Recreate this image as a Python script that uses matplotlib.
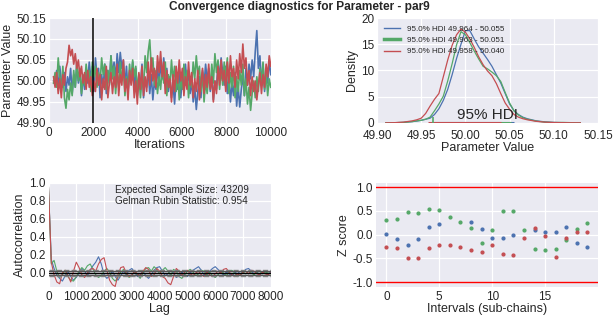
import numpy as np
import matplotlib
matplotlib.use("Agg")
import matplotlib.pyplot as plt
from matplotlib.lines import Line2D

# ---------------- data ----------------
TITLE = "Convergence diagnostics for Parameter - par9"
CHAIN_COLORS = ["#4C72B0", "#55A868", "#C44E52"]

# trace samples (every ITER_STEP iterations from ITER_START)
ITER_START = 200
ITER_STEP = 70
BURN_IN = 2000
trace_blue = [
    50.000, 49.990, 50.025, 49.980, 50.035, 50.000, 49.985, 50.020, 49.975, 50.010,
    49.990, 50.030, 49.970, 50.015, 49.985, 50.040, 49.995, 50.025, 49.965, 50.010,
    49.980, 50.020, 49.995, 50.045, 50.005, 50.035, 49.975, 50.055, 50.010, 50.030,
    49.960, 50.015, 49.985, 50.040, 49.970, 50.025, 49.995, 50.060, 50.015, 50.045,
    50.005, 50.065, 50.020, 50.068, 50.030, 50.050, 49.990, 50.035, 49.975, 50.020,
    50.000, 50.045, 49.980, 50.030, 49.965, 50.010, 49.990, 50.040, 49.960, 50.005,
    49.985, 50.025, 49.970, 50.015, 49.955, 50.000, 49.980, 50.035, 49.990, 50.045,
    50.005, 50.055, 50.015, 50.030, 49.975, 50.010, 49.960, 49.995, 49.945, 50.005,
    49.980, 50.025, 49.960, 50.010, 49.985, 50.040, 49.995, 50.020, 49.970, 50.000,
    49.950, 49.985, 49.932, 49.975, 50.010, 49.960, 50.025, 49.990, 50.040, 50.000,
    50.030, 49.975, 50.015, 49.955, 50.000, 49.980, 50.045, 50.005, 50.055, 50.020,
    49.990, 50.035, 49.970, 50.010, 49.950, 49.995, 49.965, 50.020, 49.940, 49.985,
    49.938, 49.980, 50.015, 49.965, 50.030, 49.990, 50.040, 50.005, 50.050, 50.010,
    50.070, 50.120, 50.030, 50.060, 49.990, 50.040, 49.975, 50.025, 49.995, 50.050, 50.015,
]
trace_green = [
    49.995, 50.020, 49.985, 50.055, 50.010, 49.975, 50.035, 49.960, 49.935, 49.980,
    49.955, 49.995, 49.965, 50.025, 49.985, 50.045, 50.000, 50.030, 49.970, 50.015,
    49.990, 50.040, 50.005, 50.025, 49.975, 50.045, 50.010, 50.035, 49.985, 50.020,
    49.995, 50.055, 50.015, 50.040, 49.980, 50.025, 49.990, 50.060, 50.005, 50.035,
    49.970, 50.020, 49.985, 50.045, 50.000, 50.030, 49.965, 50.010, 49.980, 50.040,
    49.995, 50.050, 50.010, 50.035, 49.975, 50.015, 49.960, 50.005, 49.985, 50.060,
    50.020, 50.070, 50.098, 50.030, 50.055, 49.990, 50.025, 49.970, 50.010, 49.980,
    50.030, 49.995, 50.045, 49.965, 50.015, 49.985, 50.050, 50.000, 50.035, 49.975,
    50.020, 49.955, 50.005, 49.980, 50.040, 49.990, 50.025, 49.960, 50.010, 49.985,
    50.045, 50.005, 50.060, 50.015, 50.035, 49.975, 50.020, 49.950, 50.000, 49.970,
    50.015, 49.985, 50.040, 49.995, 50.065, 50.020, 50.050, 49.980, 50.030, 49.990,
    50.045, 50.005, 50.055, 49.970, 50.020, 49.985, 50.035, 49.960, 50.010, 49.975,
    50.025, 49.990, 50.040, 49.965, 50.005, 49.945, 49.985, 49.930, 49.970, 50.000,
    49.960, 50.010, 49.975, 50.030, 49.995, 50.045, 49.980, 50.020, 49.965, 50.005, 49.985,
]
trace_red = [
    50.010, 49.985, 50.020, 49.970, 50.005, 49.960, 50.015, 49.990, 50.030, 50.045,
    50.085, 50.060, 50.075, 50.040, 50.065, 50.030, 50.050, 50.010, 50.035, 49.995,
    50.020, 49.980, 50.025, 49.985, 50.010, 49.965, 50.000, 49.975, 50.030, 49.990,
    50.015, 49.955, 50.005, 49.980, 50.035, 49.960, 49.995, 50.020, 49.970, 50.010,
    49.985, 50.040, 49.965, 50.015, 49.990, 50.050, 49.975, 50.005, 49.955, 50.025,
    49.990, 50.030, 49.960, 50.000, 49.945, 50.020, 49.980, 50.035, 49.965, 50.010,
    49.975, 50.045, 49.990, 50.055, 50.000, 50.030, 49.985, 50.060, 50.020, 50.070,
    50.010, 50.045, 49.970, 50.025, 49.985, 50.005, 49.950, 50.015, 49.975, 50.035,
    49.995, 50.050, 50.000, 50.030, 49.965, 50.010, 49.980, 50.045, 49.990, 50.020,
    49.960, 50.005, 49.975, 50.025, 49.955, 49.995, 50.030, 49.970, 50.015, 49.985,
    50.040, 49.980, 50.010, 49.950, 50.000, 49.970, 50.035, 49.990, 50.050, 50.000,
    50.025, 49.975, 50.045, 49.995, 50.060, 50.010, 50.030, 49.985, 50.050, 50.005,
    50.065, 50.020, 50.088, 50.030, 50.055, 49.990, 50.025, 49.965, 50.010, 49.975,
    50.000, 49.955, 49.990, 50.020, 49.970, 50.015, 49.985, 50.040, 50.010, 50.060, 50.035,
]

# posterior density curves
kde_x = [49.91, 49.92, 49.93, 49.94, 49.945, 49.95, 49.955, 49.96, 49.965, 49.97,
         49.975, 49.98, 49.985, 49.99, 49.995, 50.00, 50.005, 50.01, 50.015, 50.02,
         50.025, 50.03, 50.035, 50.04, 50.045, 50.05, 50.055, 50.06, 50.065, 50.07,
         50.08, 50.09, 50.10, 50.11, 50.12, 50.13]
kde_blue = [0.02, 0.05, 0.10, 0.25, 0.35, 0.50, 0.70, 0.90, 1.6, 2.7,
            4.3, 6.4, 9.2, 12.3, 15.0, 17.6, 17.6, 16.0, 14.5, 13.3,
            12.1, 10.8, 9.2, 7.6, 5.6, 3.6, 2.3, 1.6, 1.1, 0.8,
            0.4, 0.2, 0.1, 0.05, 0.03, 0.02]
kde_green = [0.02, 0.05, 0.10, 0.25, 0.40, 0.50, 0.70, 1.1, 2.3, 3.6,
             5.1, 8.0, 11.3, 14.9, 17.4, 16.8, 15.3, 13.7, 12.2, 10.8,
             10.3, 9.7, 9.0, 7.9, 5.8, 3.8, 2.3, 1.5, 1.0, 0.7,
             0.35, 0.15, 0.08, 0.10, 0.05, 0.02]
kde_red = [0.02, 0.05, 0.15, 0.40, 0.60, 0.90, 1.8, 3.2, 4.5, 5.6,
           8.8, 12.0, 14.8, 16.8, 17.9, 17.3, 16.0, 14.4, 12.6, 11.1,
           9.9, 9.0, 7.5, 5.6, 3.8, 2.6, 1.6, 1.1, 0.8, 0.6,
           0.3, 0.15, 0.08, 0.05, 0.03, 0.02]
hdi_blue = (49.964, 50.055)
hdi_green = (49.963, 50.051)
hdi_red = (49.958, 50.040)

# autocorrelation (every ACF_STEP lags from 0)
ACF_STEP = 100
acf_blue = [0.95, 0.15, 0.05, -0.02, -0.06, -0.09, -0.03, 0.02, -0.04, -0.08,
            -0.05, 0.00, 0.05, 0.02, -0.03, 0.03, 0.08, 0.12, 0.18, 0.10,
            -0.02, -0.06, -0.03, 0.02, -0.04, -0.08, -0.03, 0.02, -0.02, 0.03,
            0.05, 0.01, -0.04, -0.02, 0.02, -0.03, -0.06, -0.02, 0.03, 0.06,
            0.07, 0.02, -0.03, -0.01, 0.03, 0.00, -0.05, -0.03, 0.01, -0.02,
            -0.04, 0.00, 0.03, 0.05, 0.07, 0.03, -0.02, -0.01, 0.02, 0.05,
            0.07, 0.04, 0.00, -0.02, 0.01, -0.01, -0.03, 0.00, 0.02, -0.01,
            0.01, 0.04, 0.05, 0.02, -0.01, 0.01, -0.02, 0.00, 0.02, -0.01, 0.01]
acf_green = [0.95, 0.10, 0.14, 0.02, -0.05, -0.02, 0.03, -0.04, -0.08, -0.09,
             -0.04, 0.02, 0.06, 0.03, 0.08, 0.10, 0.04, -0.02, -0.05, -0.03,
             0.02, 0.05, 0.01, -0.06, -0.09, -0.05, 0.01, 0.04, -0.01, -0.05,
             -0.03, 0.02, -0.02, -0.06, 0.00, 0.05, 0.06, 0.02, 0.07, 0.04,
             -0.01, 0.03, 0.06, 0.02, -0.03, 0.04, 0.02, -0.04, -0.06, -0.02,
             0.02, 0.04, 0.01, -0.03, -0.01, 0.03, 0.02, -0.02, 0.01, -0.03,
             -0.05, -0.02, 0.02, 0.00, -0.03, 0.01, 0.03, 0.00, -0.04, -0.02,
             0.01, -0.01, 0.02, 0.00, -0.02, 0.01, 0.02, -0.01, 0.01, 0.00, -0.01]
acf_red = [0.95, 0.12, -0.02, -0.10, -0.12, 0.00, 0.03, -0.03, -0.10, 0.02,
           0.12, 0.06, -0.02, -0.05, 0.00, 0.04, 0.05, 0.02, 0.10, 0.15,
           0.17, 0.03, -0.08, -0.13, -0.15, -0.02, 0.06, 0.07, 0.00, -0.04,
           -0.02, 0.02, -0.01, -0.03, 0.02, 0.06, 0.04, -0.04, -0.02, 0.05,
           0.02, -0.04, -0.06, -0.11, -0.13, -0.04, 0.05, 0.02, -0.03, 0.01,
           0.03, -0.01, -0.03, 0.00, 0.02, -0.02, -0.04, 0.01, -0.02, -0.04,
           -0.01, 0.02, 0.00, 0.04, 0.05, 0.01, -0.02, -0.04, -0.01, -0.03,
           0.01, 0.02, -0.01, 0.03, 0.02, -0.01, -0.02, 0.01, -0.01, -0.02, 0.00]
N_SAMPLES = 8000
ESS = 43209
GELMAN_RUBIN = 0.954

# Geweke z-scores per interval
nan = float("nan")
geweke_blue = [0.01, -0.09, -0.21, -0.10, 0.17, 0.22, nan, nan, 0.26, 0.13,
               -0.07, -0.07, 0.00, nan, 0.09, 0.05, 0.06, 0.16, -0.18, -0.25]
geweke_green = [0.32, 0.34, 0.48, 0.46, 0.55, 0.51, 0.38, 0.26, 0.14, -0.18,
                0.10, 0.49, 0.49, 0.09, -0.31, -0.33, -0.30, -0.12, 0.13, 0.24]
geweke_red = [-0.26, -0.29, -0.50, -0.50, -0.29, -0.21, -0.22, -0.26, -0.33, -0.36,
              -0.21, -0.41, -0.43, -0.07, 0.14, -0.02, -0.48, -0.07, 0.05, 0.05]

# ---------------- style ----------------
plt.rcParams.update({
    "font.family": ["Liberation Sans", "DejaVu Sans"],
    "font.size": 8.5,
    "axes.facecolor": "#EAEAF2",
    "axes.edgecolor": "white",
    "axes.grid": True,
    "grid.color": "white",
    "grid.linewidth": 0.9,
    "axes.axisbelow": True,
    "xtick.major.size": 0,
    "ytick.major.size": 0,
    "xtick.labelsize": 8.5,
    "ytick.labelsize": 8.5,
    "axes.labelsize": 9,
    "text.color": "#262626",
    "axes.labelcolor": "#262626",
    "xtick.color": "#262626",
    "ytick.color": "#262626",
})

fig = plt.figure(figsize=(6.14, 3.16), dpi=100)
fig.text(0.487, 0.997, TITLE, ha="center", va="top", fontsize=8.6, fontweight="bold")

def style(ax, xpad=3.2):
    for s in ax.spines.values():
        s.set_visible(False)
    ax.tick_params(axis="y", pad=2)
    ax.tick_params(axis="x", pad=xpad)

# trace
ax1 = fig.add_axes([0.080, 0.611, 0.361, 0.332])
style(ax1)
for vals, c in zip([trace_blue, trace_green, trace_red], CHAIN_COLORS):
    it = ITER_START + ITER_STEP * np.arange(len(vals))
    ax1.plot(it, vals, color=c, lw=1.2)
ax1.axvline(BURN_IN, color="black", lw=1.1)
ax1.set_xlim(0, 10000)
ax1.set_ylim(49.90, 50.15)
ax1.set_xticks(np.arange(0, 10001, 2000))
ax1.set_yticks(np.arange(49.90, 50.151, 0.05))
ax1.yaxis.set_major_formatter(matplotlib.ticker.FormatStrFormatter("%.2f"))
ax1.set_xlabel("Iterations", labelpad=0)
ax1.set_ylabel("Parameter Value", labelpad=2)

# density
ax2 = fig.add_axes([0.614, 0.611, 0.360, 0.332])
style(ax2, xpad=4.8)
for vals, c in zip([kde_blue, kde_green, kde_red], CHAIN_COLORS):
    ax2.plot(kde_x, vals, color=c, lw=0.9)
for hdi, c in zip([hdi_blue, hdi_green, hdi_red], CHAIN_COLORS):
    ax2.plot(hdi, [0, 0], color=c, lw=2.2, solid_capstyle="butt")
ax2.plot([hdi_green[0]], [0.5], marker="|", color=CHAIN_COLORS[1], ms=5, mew=1.2)
ax2.text(50.025, 0.15, "95% HDI", ha="center", va="bottom", fontsize=11, color="#262626")
handles = [Line2D([], [], color=CHAIN_COLORS[0], lw=1.0),
           Line2D([], [], color=CHAIN_COLORS[1], lw=2.5),
           Line2D([], [], color=CHAIN_COLORS[2], lw=1.0)]
labels = ["95.0%% HDI %.3f - %.3f" % h for h in [hdi_blue, hdi_green, hdi_red]]
ax2.legend(handles, labels, loc="upper left", frameon=False, fontsize=5.8,
           labelspacing=0.45, handlelength=2.0, borderaxespad=0.5)
ax2.set_xlim(49.90, 50.15)
ax2.set_ylim(0, 20)
ax2.set_xticks(np.arange(49.90, 50.151, 0.05))
ax2.xaxis.set_major_formatter(matplotlib.ticker.FormatStrFormatter("%.2f"))
ax2.set_yticks([0, 5, 10, 15, 20])
ax2.set_xlabel("Parameter Value", labelpad=0)
ax2.set_ylabel("Density", labelpad=2)

# autocorrelation
ax3 = fig.add_axes([0.079, 0.092, 0.362, 0.329])
style(ax3)
for vals, c in zip([acf_blue, acf_green, acf_red], CHAIN_COLORS):
    lags = ACF_STEP * np.arange(len(vals))
    ax3.plot(lags, vals, color=c, lw=0.8)
z95 = 1.959963984540054 / np.sqrt(N_SAMPLES)
z99 = 2.5758293035489004 / np.sqrt(N_SAMPLES)
ax3.axhline(z99, ls="--", color="grey", lw=1.0)
ax3.axhline(z95, color="#555555", lw=1.0)
ax3.axhline(0.0, color="black", lw=1.0)
ax3.axhline(-z95, color="#555555", lw=1.0)
ax3.axhline(-z99, ls="--", color="grey", lw=1.0)
ax3.text(0.60, 0.985, "Expected Sample Size: %d\nGelman Rubin Statistic: %.3f" % (ESS, GELMAN_RUBIN),
         transform=ax3.transAxes, ha="center", va="top", fontsize=7.2, linespacing=1.15)
ax3.set_xlim(0, 8000)
ax3.set_ylim(-0.155, 1.0)
ax3.set_xticks(np.arange(0, 8001, 1000))
ax3.set_yticks(np.arange(0, 1.01, 0.2))
ax3.yaxis.set_major_formatter(matplotlib.ticker.FormatStrFormatter("%.1f"))
ax3.set_xlabel("Lag", labelpad=0)
ax3.set_ylabel("Autocorrelation", labelpad=2)

# Geweke
ax4 = fig.add_axes([0.612, 0.092, 0.362, 0.329])
style(ax4)
for vals, c in zip([geweke_blue, geweke_green, geweke_red], CHAIN_COLORS):
    ax4.plot(np.arange(len(vals)), vals, ls="none", marker="o", ms=2.0, color=c, mec=c)
ax4.axhline(1.0, color="red", lw=1.0)
ax4.axhline(-1.0, color="red", lw=1.0)
ax4.set_xlim(-1, 20)
ax4.set_ylim(-1.1, 1.09)
ax4.set_xticks([0, 5, 10, 15])
ax4.set_yticks([-1.0, -0.5, 0.0, 0.5, 1.0])
ax4.yaxis.set_major_formatter(matplotlib.ticker.FormatStrFormatter("%.1f"))
ax4.set_xlabel("Intervals (sub-chains)", labelpad=0)
ax4.set_ylabel("Z score", labelpad=2)

fig.savefig("out.png", dpi=100)
